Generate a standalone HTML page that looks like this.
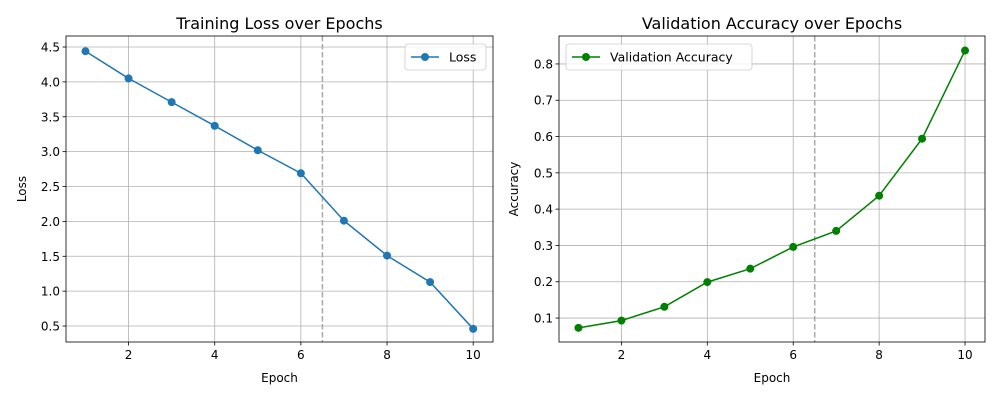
<!DOCTYPE html>
<html><head><meta charset="utf-8"><style>
body{margin:0;background:#fff;font-family:"Liberation Sans","DejaVu Sans",sans-serif}
svg text{font-family:"DejaVu Sans","Liberation Sans",sans-serif}
</style></head><body>
<svg id="chart" width="1000" height="400" xmlns="http://www.w3.org/2000/svg"></svg>
<script>
const epochs=[1,2,3,4,5,6,7,8,9,10];
const lossValues=[4.44,4.05,3.71,3.37,3.02,2.69,2.01,1.51,1.13,0.46];
const accValues=[0.073,0.093,0.131,0.199,0.236,0.296,0.340,0.437,0.594,0.837];
const xTicks=[2,4,6,8,10];
const lossTicks=[0.5,1.0,1.5,2.0,2.5,3.0,3.5,4.0,4.5];
const accTicks=[0.1,0.2,0.3,0.4,0.5,0.6,0.7,0.8];
const splitEpoch=6.5;
const svg=document.getElementById('chart');
const NS='http://www.w3.org/2000/svg';
function mk(tag,attrs,parent){const e=document.createElementNS(NS,tag);for(const k in attrs)e.setAttribute(k,attrs[k]);(parent||svg).appendChild(e);return e;}
function panel(o){
  const g=mk('g',{});
  
  
  const sx=v=>o.x0+(v-o.xmin)/(o.xmax-o.xmin)*(o.x1-o.x0);
  const sy=v=>o.y1-(v-o.ymin)/(o.ymax-o.ymin)*(o.y1-o.y0);
  xTicks.forEach(t=>{
    const l=mk('line',{x1:sx(t),x2:sx(t),y1:o.y0,y2:o.y1,stroke:'#b0b0b0','stroke-width':0.8},g);
    
    mk('line',{x1:sx(t),x2:sx(t),y1:o.y1,y2:o.y1+3.5,stroke:'#000','stroke-width':0.8},g);
    const tx=mk('text',{x:sx(t),y:o.y1+17,'font-size':12,'text-anchor':'middle',fill:'#000'},g);tx.textContent=t;
    
  });
  o.yticks.forEach(t=>{
    const l=mk('line',{x1:o.x0,x2:o.x1,y1:sy(t),y2:sy(t),stroke:'#b0b0b0','stroke-width':0.8},g);
    
    mk('line',{x1:o.x0-3.5,x2:o.x0,y1:sy(t),y2:sy(t),stroke:'#000','stroke-width':0.8},g);
    const tx=mk('text',{x:o.x0-6,y:sy(t)+4.5,'font-size':12,'text-anchor':'end',fill:'#000'},g);tx.textContent=t.toFixed(1);
    
  });
  const vl=mk('line',{x1:sx(splitEpoch),x2:sx(splitEpoch),y1:o.y0,y2:o.y1,stroke:'#a9a9a9','stroke-width':1.5,'stroke-dasharray':'5.5,2.5'},g);
  
  const pts=epochs.map((e,i)=>sx(e)+','+sy(o.vals[i])).join(' ');
  const pl=mk('polyline',{points:pts,fill:'none',stroke:o.color,'stroke-width':1.5},g);
  
  epochs.forEach((e,i)=>{const c=mk('circle',{cx:sx(e),cy:sy(o.vals[i]),r:4,fill:o.color},g);
    });
  const fr=mk('rect',{x:o.x0,y:o.y0,width:o.x1-o.x0,height:o.y1-o.y0,fill:'none',stroke:'#000','stroke-width':0.8},g);
  
  const ti=mk('text',{x:(o.x0+o.x1)/2,y:o.y0-7,'font-size':16,'text-anchor':'middle'},g);ti.textContent=o.title;
  
  const xl=mk('text',{x:(o.x0+o.x1)/2,y:382,'font-size':12,'text-anchor':'middle'},g);xl.textContent='Epoch';
  
  const yl=mk('text',{x:o.ylx,y:(o.y0+o.y1)/2,'font-size':12,'text-anchor':'middle',transform:`rotate(-90 ${o.ylx} ${(o.y0+o.y1)/2})`},g);yl.textContent=o.ylabel;
  
  const lg=mk('g',{},g);
  
  mk('rect',{x:o.lx,y:44,width:o.lw,height:26,rx:3,fill:'#fff','fill-opacity':0.8,stroke:'#ccc','stroke-width':0.8},lg);
  mk('line',{x1:o.lx+6,x2:o.lx+34,y1:57,y2:57,stroke:o.color,'stroke-width':1.5},lg);
  mk('circle',{cx:o.lx+20,cy:57,r:4,fill:o.color},lg);
  const lt=mk('text',{x:o.lx+44,y:61.5,'font-size':12.5},lg);lt.textContent=o.legend;
  
}
panel({name:'loss-chart',x0:66,x1:493,y0:36,y1:342,xmin:0.548,xmax:10.46,ymin:0.271,ymax:4.658,
 yticks:lossTicks,vals:lossValues,color:'#1f77b4',title:'Training Loss over Epochs',ylabel:'Loss',ylx:26,lx:405,lw:81,legend:'Loss'});
panel({name:'accuracy-chart',x0:559,x1:985,y0:36,y1:342,xmin:0.547,xmax:10.465,ymin:0.034,ymax:0.877,
 yticks:accTicks,vals:accValues,color:'#008000',title:'Validation Accuracy over Epochs',ylabel:'Accuracy',ylx:518,lx:566,lw:186,legend:'Validation Accuracy'});
</script>
</body></html>
